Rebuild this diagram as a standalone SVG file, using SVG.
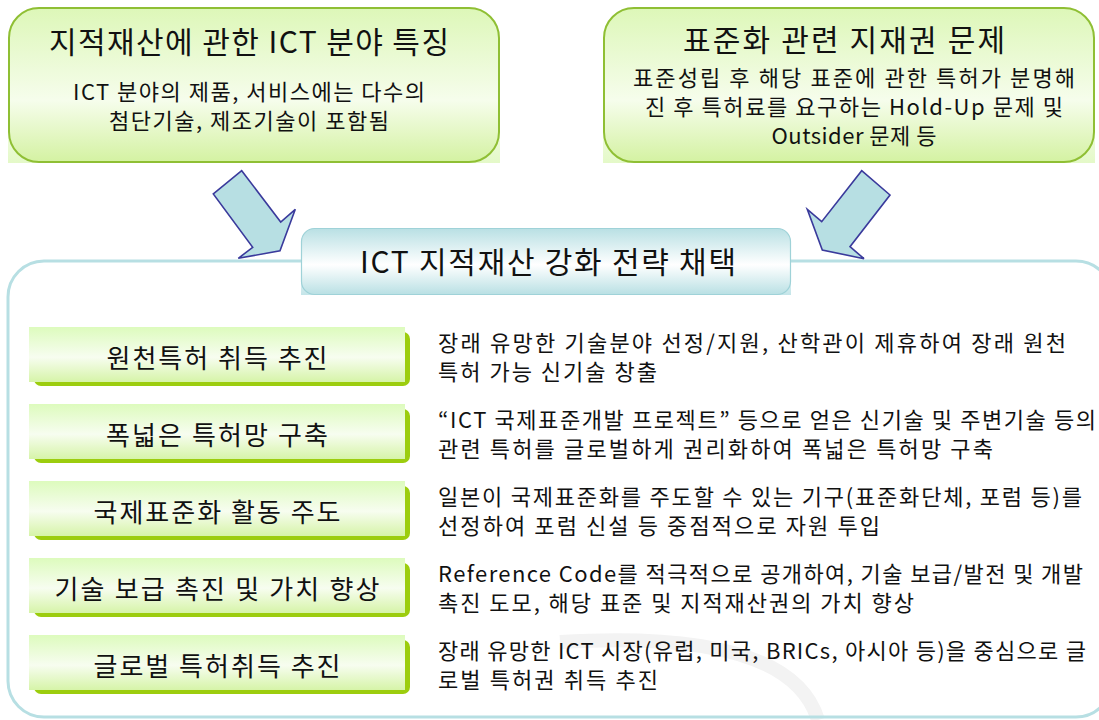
<svg xmlns="http://www.w3.org/2000/svg" width="1099" height="720" viewBox="0 0 1099 720">
<defs>
<linearGradient id="gBox" x1="0" y1="0" x2="0" y2="1">
<stop offset="0" stop-color="#ddf7b8"/>
<stop offset="0.6" stop-color="#f6fdec"/>
<stop offset="1" stop-color="#d4f2a2"/>
</linearGradient>
<linearGradient id="gBack" x1="0" y1="0" x2="0" y2="1">
<stop offset="0" stop-color="#ffffff"/>
<stop offset="0.5" stop-color="#ffffff"/>
<stop offset="1" stop-color="#e4f9c8"/>
</linearGradient>
<linearGradient id="gBar" x1="0" y1="0" x2="0" y2="1">
<stop offset="0" stop-color="#ddfbbd"/>
<stop offset="0.55" stop-color="#f7fdf0"/>
<stop offset="1" stop-color="#d6f4a8"/>
</linearGradient>
<linearGradient id="gCenter" x1="0" y1="0" x2="0" y2="1">
<stop offset="0" stop-color="#b9e0e4"/>
<stop offset="0.55" stop-color="#ffffff"/>
<stop offset="1" stop-color="#b9e0e4"/>
</linearGradient>
<linearGradient id="gCenterBack" x1="0" y1="0" x2="0" y2="1">
<stop offset="0" stop-color="#ffffff"/>
<stop offset="0.5" stop-color="#ffffff"/>
<stop offset="1" stop-color="#c4e5e9"/>
</linearGradient>
<style>
text{font-family:"Noto Sans CJK KR","Noto Sans",sans-serif;fill:#111;}
.title{font-size:30px;text-anchor:middle;}
.body{font-size:22px;text-anchor:middle;}
.bar{font-size:26px;text-anchor:middle;}
.desc{font-size:22px;}
.box{fill:url(#gBox);stroke:#8fbf34;stroke-width:2;}
.barMain{fill:url(#gBar);}
.barShadow{fill:#9ccd0e;}
.arrow{fill:#b7dfe3;stroke:#3a3a9c;stroke-width:1.6;stroke-linejoin:miter;}
</style>
</defs>
<rect width="1099" height="720" fill="#ffffff"/>

<path d="M 560 642 Q 790 628 818 720" fill="none" stroke="#f3f3f3" stroke-width="14"/>

<g id="container">
<rect x="8" y="261" width="1104" height="456" rx="36" ry="36" fill="none" stroke="#b7dfe3" stroke-width="3"/>
</g>

<g id="box-left">
<rect x="8" y="7" width="492" height="156" fill="url(#gBack)"/>
<rect x="9" y="8" width="490" height="154" rx="30" ry="30" class="box"/>
<text class="title" x="249" y="53" textLength="400" lengthAdjust="spacing">지적재산에 관한 ICT 분야 특징</text>
<text class="body" x="249" y="100" textLength="352" lengthAdjust="spacing">ICT 분야의 제품, 서비스에는 다수의</text>
<text class="body" x="249" y="129" textLength="280" lengthAdjust="spacing">첨단기술, 제조기술이 포함됨</text>
</g>

<g id="box-right">
<rect x="603" y="7" width="492" height="156" fill="url(#gBack)"/>
<rect x="604" y="8" width="490" height="154" rx="30" ry="30" class="box"/>
<text class="title" x="844" y="51" textLength="322" lengthAdjust="spacing">표준화 관련 지재권 문제</text>
<text class="body" x="854" y="86" textLength="442" lengthAdjust="spacing">표준성립 후 해당 표준에 관한 특허가 분명해</text>
<text class="body" x="854" y="115" textLength="418" lengthAdjust="spacing">진 후 특허료를 요구하는 Hold-Up 문제 및</text>
<text class="body" x="854" y="144" textLength="165" lengthAdjust="spacing">Outsider 문제 등</text>
</g>

<g id="connectors">
<polygon class="arrow" points="241.7,170.7 213.3,194 252.7,247.3 238.3,258.3 280,250.7 295.3,209.3 280.7,222"/>
<polygon class="arrow" points="861.7,170.7 890,195 850,246.7 864,258.7 822.3,250 807.3,209.3 821.7,221.7"/>
</g>

<g id="center-title">
<rect x="301" y="228" width="490" height="67" fill="url(#gCenterBack)"/>
<rect x="301.5" y="228.5" width="489" height="66" rx="13" ry="13" fill="url(#gCenter)" stroke="#9fd2d8" stroke-width="1.2"/>
<text class="title" x="548" y="273" textLength="376" lengthAdjust="spacing">ICT 지적재산 강화 전략 채택</text>
</g>

<g id="item1">
<rect x="34" y="332" width="376" height="54" rx="7" class="barShadow"/>
<rect x="29" y="327" width="376" height="55" class="barMain"/>
<text class="bar" x="217" y="368" textLength="221" lengthAdjust="spacing">원천특허 취득 추진</text>
<text class="desc" x="438" y="351" textLength="628" lengthAdjust="spacing">장래 유망한 기술분야 선정/지원, 산학관이 제휴하여 장래 원천</text>
<text class="desc" x="438" y="380" textLength="219" lengthAdjust="spacing">특허 가능 신기술 창출</text>
</g>

<g id="item2">
<rect x="34" y="409" width="376" height="54" rx="7" class="barShadow"/>
<rect x="29" y="404" width="376" height="55" class="barMain"/>
<text class="bar" x="217" y="445" textLength="222" lengthAdjust="spacing">폭넓은 특허망 구축</text>
<text class="desc" x="438" y="428" textLength="658" lengthAdjust="spacing">“ICT 국제표준개발 프로젝트” 등으로 얻은 신기술 및 주변기술 등의</text>
<text class="desc" x="438" y="457" textLength="555" lengthAdjust="spacing">관련 특허를 글로벌하게 권리화하여 폭넓은 특허망 구축</text>
</g>

<g id="item3">
<rect x="34" y="486" width="376" height="54" rx="7" class="barShadow"/>
<rect x="29" y="481" width="376" height="55" class="barMain"/>
<text class="bar" x="217" y="522" textLength="247" lengthAdjust="spacing">국제표준화 활동 주도</text>
<text class="desc" x="438" y="505" textLength="644" lengthAdjust="spacing">일본이 국제표준화를 주도할 수 있는 기구(표준화단체, 포럼 등)를</text>
<text class="desc" x="438" y="534" textLength="442" lengthAdjust="spacing">선정하여 포럼 신설 등 중점적으로 자원 투입</text>
</g>

<g id="item4">
<rect x="34" y="563" width="376" height="54" rx="7" class="barShadow"/>
<rect x="29" y="558" width="376" height="55" class="barMain"/>
<text class="bar" x="217" y="599" textLength="325" lengthAdjust="spacing">기술 보급 촉진 및 가치 향상</text>
<text class="desc" x="438" y="582" textLength="645" lengthAdjust="spacing">Reference Code를 적극적으로 공개하여,  기술 보급/발전 및 개발</text>
<text class="desc" x="438" y="611" textLength="476" lengthAdjust="spacing">촉진 도모, 해당 표준 및 지적재산권의 가치 향상</text>
</g>

<g id="item5">
<rect x="34" y="640" width="376" height="54" rx="7" class="barShadow"/>
<rect x="29" y="635" width="376" height="55" class="barMain"/>
<text class="bar" x="217" y="676" textLength="247" lengthAdjust="spacing">글로벌 특허취득 추진</text>
<text class="desc" x="438" y="659" textLength="648" lengthAdjust="spacing">장래 유망한 ICT 시장(유럽, 미국, BRICs, 아시아 등)을 중심으로 글</text>
<text class="desc" x="438" y="688" textLength="220" lengthAdjust="spacing">로벌 특허권 취득 추진</text>
</g>
</svg>
